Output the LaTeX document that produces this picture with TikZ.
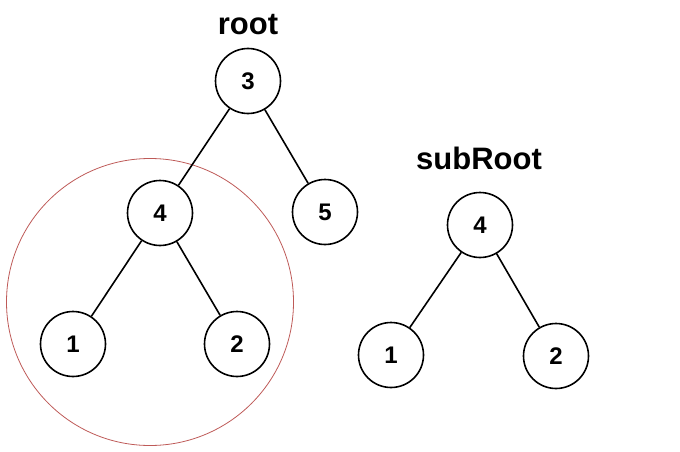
\documentclass[tikz,border=0pt]{standalone}
\usepackage{fontspec}
\setmainfont{Liberation Sans}
\definecolor{ringred}{RGB}{190,90,88}
\begin{document}
\begin{tikzpicture}[x=1pt,y=-1pt,
  tnode/.style={circle,draw=black,line width=1.6pt,minimum size=65pt,inner sep=0pt,font=\fontsize{24}{24}\selectfont\bfseries},
  tlabel/.style={font=\fontsize{31}{31}\selectfont\bfseries,inner sep=0pt},
  edge/.style={line width=1.6pt,black}]
\useasboundingbox (0,0) rectangle (680,452);
\draw[ringred,line width=0.8pt] (150,302) circle (143.5);
\node[tlabel] (lroot) at (248,25) {root};
\node[tnode] (n3) at (248,81) {3};
\node[tnode] (n4) at (160,213) {4};
\node[tnode] (n5) at (325,212) {5};
\node[tnode] (n1) at (73,344) {1};
\node[tnode] (n2) at (237,344) {2};
\node[tlabel] (lsub) at (479,158) {subRoot};
\node[tnode] (s4) at (480,225) {4};
\node[tnode] (s1) at (391,355) {1};
\node[tnode] (s2) at (556,356) {2};
\draw[edge] (n3) -- (n4);
\draw[edge] (n3) -- (n5);
\draw[edge] (n4) -- (n1);
\draw[edge] (n4) -- (n2);
\draw[edge] (s4) -- (s1);
\draw[edge] (s4) -- (s2);
\end{tikzpicture}
\end{document}
